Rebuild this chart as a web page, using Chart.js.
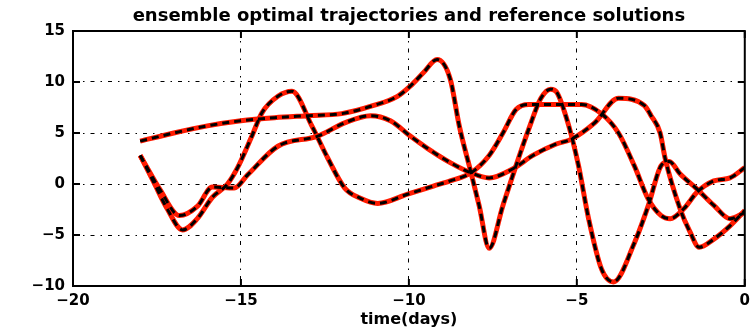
<!DOCTYPE html>
<html>
<head>
<meta charset="utf-8">
<script src="https://cdn.jsdelivr.net/npm/chart.js@4.4.1/dist/chart.umd.min.js"></script>
<style>
  html, body { margin: 0; padding: 0; background: #fff; }
  #wrap { width: 756px; height: 331px; }
</style>
</head>
<body>
<div id="wrap"><canvas id="chart" width="756" height="331"></canvas></div>
<script>
// axis ticks
const xTicks = [-20, -15, -10, -5, 0];
const yTicks = [-10, -5, 0, 5, 10, 15];

// trajectory 1 (upper start, peak ~12)
const t1 = [-18, -17, -16, -15, -14, -13, -12, -11.05, -10.34, -9.96, -9.57, -9.16, -8.77, -8.5, -8.15, -7.91, -7.61, -7.2, -6.81, -6.43, -6.07, -5.78, -5.6, -5.24, -4.95, -4.65, -4.27, -3.91, -3.29, -2.87, -2.49, -2.25, -1.93, -1.42, -0.92, -0.44, 0];
const y1 = [4.2, 5.0, 5.7, 6.2, 6.5, 6.7, 6.9, 7.7, 8.6, 9.6, 10.9, 12.2, 10.3, 5.7, 1.1, -2.1, -6.3, -2.1, 1.8, 5.4, 8.4, 9.3, 9.0, 5.7, 1.8, -3.4, -8.3, -9.6, -5.8, -2.1, 1.8, 2.2, 1.0, -0.5, -2.1, -3.4, -2.8];

// trajectory 2 (deep first dip, peak ~9 at -13.5)
const t2 = [-18, -17.6, -17.2, -16.74, -16.3, -15.85, -15.4, -15.1, -14.7, -14.37, -13.9, -13.48, -12.89, -12.41, -11.91, -11.44, -10.93, -10.04, -9.27, -8.77, -8.15, -7.61, -7.2, -6.81, -6.43, -5.63, -4.86, -4.27, -3.76, -3.29, -2.87, -2.49, -2.22, -1.81, -1.42, -0.92, -0.44, 0];
const y2 = [2.8, 0.2, -2.4, -4.5, -3.4, -1.3, 0.0, 1.6, 4.5, 7.0, 8.6, 9.1, 5.7, 2.5, -0.4, -1.4, -1.9, -1.0, -0.2, 0.3, 1.1, 2.8, 5.0, 7.3, 7.8, 7.8, 7.8, 6.9, 5.0, 1.8, -1.5, -3.1, -3.4, -2.4, -0.8, 0.3, 0.6, 1.6];

// trajectory 3 (shallow first dip, peak ~8.4 at -3.8)
const t3 = [-18, -17.4, -16.83, -16.3, -15.85, -15.2, -14.8, -13.9, -12.71, -11.91, -11.14, -10.55, -9.96, -9.45, -8.77, -8.15, -7.61, -6.9, -6.31, -5.63, -5.16, -4.47, -3.76, -2.99, -2.79, -2.52, -2.37, -1.93, -1.63, -1.36, -0.92, -0.44, 0];
const y3 = [2.8, -0.6, -3.1, -2.2, -0.3, -0.4, 0.9, 3.7, 4.7, 6.0, 6.7, 6.2, 4.7, 3.5, 2.1, 1.1, 0.6, 1.5, 2.8, 3.9, 4.4, 6.0, 8.4, 7.7, 6.7, 5.0, 2.5, -2.4, -4.7, -6.2, -5.4, -4.1, -2.6];

const curves = [[t1, y1], [t2, y2], [t3, y3]];

const toPoints = (ts, ys) => ts.map((t, i) => ({ x: t, y: ys[i] }));

const datasets = [];
curves.forEach(([ts, ys], i) => {
    // ensemble optimal trajectory: solid red
    datasets.push({
        label: "ensemble " + (i + 1),
        data: toPoints(ts, ys),
        borderColor: "#ff1a00",
        borderWidth: 5,
        pointRadius: 0,
        cubicInterpolationMode: "monotone",
        order: 2,
    });
    // reference solution: black dashes on top
    datasets.push({
        label: "reference " + (i + 1),
        data: toPoints(ts, ys),
        borderColor: "#000000",
        borderWidth: 3,
        borderDash: [7, 5],
        pointRadius: 0,
        cubicInterpolationMode: "monotone",
        order: 1,
    });
});

const minus = (v) => String(v).replace("-", "\u2212");

// box round the plot and inward ticks, matlab style
const framePlugin = {
    id: "frame",
    afterDraw(chart) {
        const { ctx, chartArea: a, scales: { x, y } } = chart;
        ctx.save();
        ctx.strokeStyle = "#000";
        ctx.lineWidth = 2;
        ctx.strokeRect(a.left, a.top, a.right - a.left, a.bottom - a.top);
        const len = 7;
        ctx.beginPath();
        xTicks.forEach((v) => {
            const px = x.getPixelForValue(v);
            ctx.moveTo(px, a.bottom); ctx.lineTo(px, a.bottom - len);
            ctx.moveTo(px, a.top); ctx.lineTo(px, a.top + len);
        });
        yTicks.forEach((v) => {
            const py = y.getPixelForValue(v);
            ctx.moveTo(a.left, py); ctx.lineTo(a.left + len, py);
            ctx.moveTo(a.right, py); ctx.lineTo(a.right - len, py);
        });
        ctx.stroke();
        ctx.restore();
    },
};

const tickFont = { family: "DejaVu Sans", size: 15, weight: "bold" };
const gridDash = [4, 6, 1.5, 6];

new Chart(document.getElementById("chart"), {
    type: "line",
    data: { datasets },
    options: {
        responsive: false,
        animation: false,
        devicePixelRatio: 1,
        layout: { padding: { left: 0, right: 4, top: 0, bottom: 0 } },
        plugins: {
            legend: { display: false },
            tooltip: { enabled: false },
            title: {
                display: true,
                text: "ensemble optimal trajectories and reference solutions",
                color: "#000",
                fullSize: false,
                font: { family: "DejaVu Sans", size: 18, weight: "bold", lineHeight: 1 },
                padding: { top: 7, bottom: 6 },
            },
        },
        scales: {
            x: {
                type: "linear",
                min: -20,
                max: 0,
                afterBuildTicks: (scale) => { scale.ticks = xTicks.map((v) => ({ value: v })); },
                afterFit: (scale) => { scale.height = 45; },
                ticks: { color: "#000", font: tickFont, padding: 6, maxRotation: 0, callback: minus },
                grid: { color: "#000", lineWidth: 1, drawTicks: false },
                border: { display: false, dash: gridDash },
                title: {
                    display: true,
                    text: "time(days)",
                    color: "#000",
                    font: { family: "DejaVu Sans", size: 16, weight: "bold", lineHeight: 1 },
                    padding: { top: 0, bottom: 3 },
                },
            },
            y: {
                type: "linear",
                min: -10,
                max: 15,
                afterBuildTicks: (scale) => { scale.ticks = yTicks.map((v) => ({ value: v })); },
                afterFit: (scale) => { scale.width = 73; },
                ticks: { color: "#000", font: tickFont, padding: 8, callback: minus },
                grid: { color: "#000", lineWidth: 1, drawTicks: false },
                border: { display: false, dash: gridDash },
            },
        },
    },
    plugins: [framePlugin],
});
</script>
</body>
</html>
